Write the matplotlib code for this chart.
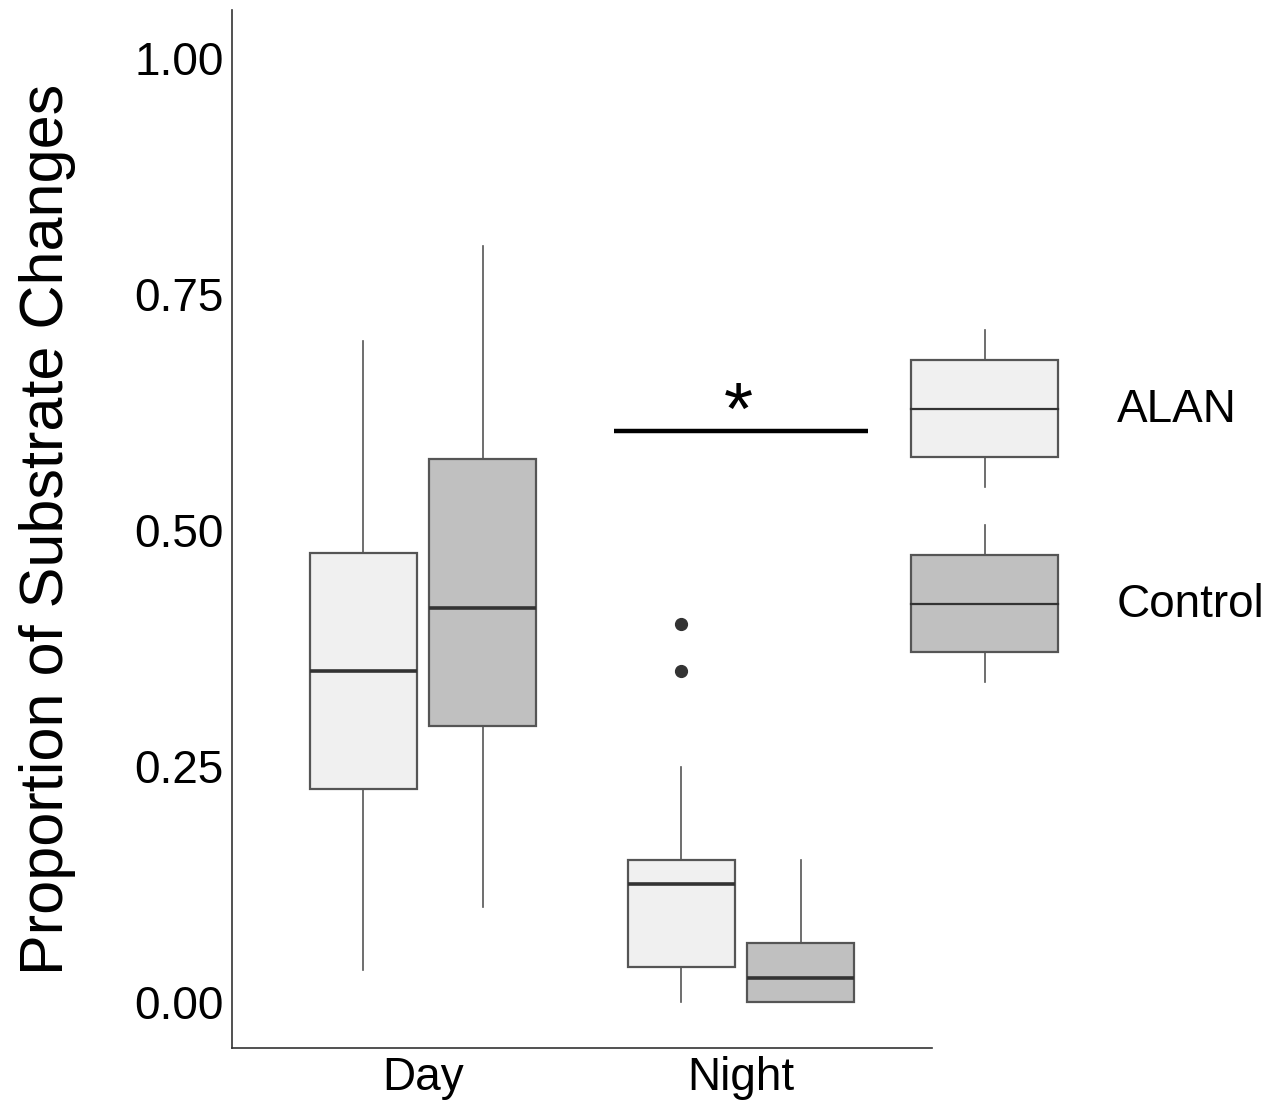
import matplotlib.pyplot as plt
from matplotlib.patches import Rectangle

plt.rcParams["font.family"] = ["Liberation Sans", "DejaVu Sans"]

# data (proportions)
periods = ["Day", "Night"]
groups = ["ALAN", "Control"]
fills = {"ALAN": "#F0F0F0", "Control": "#C0C0C0"}

whislo = {"ALAN": [0.034, 0.0], "Control": [0.100, 0.0]}
q1 = {"ALAN": [0.225, 0.037], "Control": [0.292, 0.0]}
med = {"ALAN": [0.351, 0.125], "Control": [0.417, 0.025]}
q3 = {"ALAN": [0.476, 0.150], "Control": [0.575, 0.0625]}
whishi = {"ALAN": [0.700, 0.249], "Control": [0.801, 0.150]}
fliers = {"ALAN": [[], [0.350, 0.400]], "Control": [[], []]}

sig_x = [1.60, 2.40]
sig_y = 0.605

EDGE = "#555555"

fig = plt.figure(figsize=(12.76, 11.03), dpi=100)
ax = fig.add_axes([232 / 1276, 55 / 1103, 700 / 1276, 1038 / 1103])

offsets = {"ALAN": -0.1875, "Control": 0.1875}
for g in groups:
    stats = []
    for i in range(len(periods)):
        stats.append(dict(whislo=whislo[g][i], q1=q1[g][i], med=med[g][i], q3=q3[g][i],
                          whishi=whishi[g][i], fliers=fliers[g][i]))
    pos = [i + 1 + offsets[g] for i in range(len(periods))]
    ax.bxp(stats, positions=pos, widths=0.335, patch_artist=True, showcaps=False,
           boxprops=dict(facecolor=fills[g], edgecolor=EDGE, linewidth=1.6),
           whiskerprops=dict(color=EDGE, linewidth=1.2),
           medianprops=dict(color="#333333", linewidth=2.6),
           flierprops=dict(marker="o", markerfacecolor="#333333", markeredgecolor="#333333",
                           markersize=8.5), manage_ticks=False)

ax.plot(sig_x, [sig_y, sig_y], color="black", linewidth=3.2, solid_capstyle="butt")
ax.text(sum(sig_x) / 2 - 0.01, sig_y - 0.003, "*", ha="center", va="baseline", fontsize=54)

ax.set_xlim(0.4, 2.6)
ax.set_ylim(-0.049, 1.051)
ax.set_xticks([1, 2])
ax.set_xticklabels(periods)
ax.set_yticks([0, 0.25, 0.5, 0.75, 1.0])
ax.set_yticklabels(["0.00", "0.25", "0.50", "0.75", "1.00"])
ax.tick_params(length=0, labelsize=33, pad=6, colors="black")
ax.tick_params(axis="x", pad=6)
for s in ("top", "right"):
    ax.spines[s].set_visible(False)
for s in ("left", "bottom"):
    ax.spines[s].set_color("#333333")
    ax.spines[s].set_linewidth(1.2)
ax.set_ylabel("Proportion of Substrate Changes", fontsize=44, labelpad=42)

# legend drawn as boxplot keys
lax = fig.add_axes([905 / 1276, (1103 - 700) / 1103, 370 / 1276, 380 / 1103])
lax.set_xlim(0, 370)
lax.set_ylim(380, 0)
lax.axis("off")
for k, g in enumerate(groups):
    top = 40 + k * 195
    lax.add_patch(Rectangle((6, top), 147, 97, facecolor=fills[g], edgecolor=EDGE, linewidth=1.6))
    lax.plot([6, 153], [top + 48.5, top + 48.5], color="#333333", linewidth=1.6)
    lax.plot([80, 80], [top - 30, top], color=EDGE, linewidth=1.2)
    lax.plot([80, 80], [top + 97, top + 127], color=EDGE, linewidth=1.2)
    lax.text(212, top + 50, g, ha="left", va="center", fontsize=33)

fig.savefig("out.png", dpi=100, facecolor="white")
